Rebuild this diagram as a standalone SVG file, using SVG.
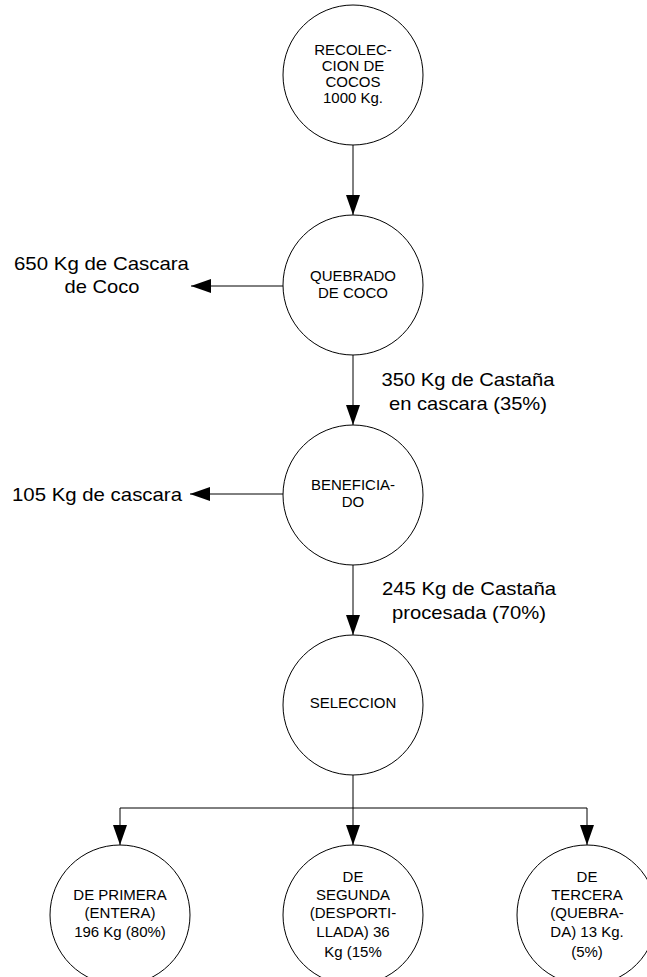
<svg xmlns="http://www.w3.org/2000/svg" width="647" height="977" viewBox="0 0 647 977">
<style>
.node{fill:#fff;stroke:#000;stroke-width:1}
.nt{font-family:"Liberation Sans",Arial,sans-serif;font-size:15px;text-anchor:middle;fill:#000}
.lbl{font-family:"Liberation Sans",Arial,sans-serif;font-size:19px;text-anchor:middle;fill:#000}
.edge{fill:none;stroke:#000;stroke-width:1}
</style>
<defs>
<marker id="arr" markerWidth="20" markerHeight="14" refX="20" refY="7" orient="auto" markerUnits="userSpaceOnUse">
<path d="M0,0 L20,7 L0,14 Z" fill="#000"/>
</marker>
</defs>
<rect width="647" height="977" fill="#fff"/>
<g id="connectors">
<line class="edge" x1="353" y1="145" x2="353" y2="215" marker-end="url(#arr)"/>
<line class="edge" x1="283" y1="286" x2="191" y2="286" marker-end="url(#arr)"/>
<line class="edge" x1="353" y1="355" x2="353" y2="425" marker-end="url(#arr)"/>
<line class="edge" x1="283" y1="494" x2="190" y2="494" marker-end="url(#arr)"/>
<line class="edge" x1="353" y1="565" x2="353" y2="635" marker-end="url(#arr)"/>
<line class="edge" x1="353" y1="775" x2="353" y2="845" marker-end="url(#arr)"/>
<polyline class="edge" points="120,808 587,808"/>
<line class="edge" x1="120" y1="808" x2="120" y2="845" marker-end="url(#arr)"/>
<line class="edge" x1="587" y1="808" x2="587" y2="845" marker-end="url(#arr)"/>
</g>
<g id="lbl-650">
<text class="lbl" x="101.5" y="270" textLength="175" lengthAdjust="spacingAndGlyphs">650 Kg de Cascara</text>
<text class="lbl" x="102" y="293" textLength="75" lengthAdjust="spacingAndGlyphs">de Coco</text>
</g>
<g id="lbl-350">
<text class="lbl" x="468" y="386" textLength="173" lengthAdjust="spacingAndGlyphs">350 Kg de Castaña</text>
<text class="lbl" x="468" y="410" textLength="158" lengthAdjust="spacingAndGlyphs">en cascara (35%)</text>
</g>
<g id="lbl-105">
<text class="lbl" x="97" y="501" textLength="170" lengthAdjust="spacingAndGlyphs">105 Kg de cascara</text>
</g>
<g id="lbl-245">
<text class="lbl" x="469" y="595" textLength="174" lengthAdjust="spacingAndGlyphs">245 Kg de Castaña</text>
<text class="lbl" x="469" y="619" textLength="154" lengthAdjust="spacingAndGlyphs">procesada (70%)</text>
</g>
<g id="n-recoleccion">
<circle class="node" cx="353" cy="75" r="70"/>
<text class="nt" x="353" y="55">RECOLEC-</text>
<text class="nt" x="353" y="71">CION DE</text>
<text class="nt" x="353" y="87">COCOS</text>
<text class="nt" x="353" y="103">1000 Kg.</text>
</g>
<g id="n-quebrado">
<circle class="node" cx="353" cy="285" r="70"/>
<text class="nt" x="353" y="281">QUEBRADO</text>
<text class="nt" x="353" y="298">DE COCO</text>
</g>
<g id="n-beneficiado">
<circle class="node" cx="353" cy="495" r="70"/>
<text class="nt" x="353" y="490">BENEFICIA-</text>
<text class="nt" x="353" y="507">DO</text>
</g>
<g id="n-seleccion">
<circle class="node" cx="353" cy="705" r="70"/>
<text class="nt" x="353" y="708">SELECCION</text>
</g>
<g id="n-primera">
<circle class="node" cx="120" cy="915" r="70"/>
<text class="nt" x="120" y="900">DE PRIMERA</text>
<text class="nt" x="120" y="918">(ENTERA)</text>
<text class="nt" x="120" y="937">196 Kg (80%)</text>
</g>
<g id="n-segunda">
<circle class="node" cx="353" cy="915" r="70"/>
<text class="nt" x="353" y="882">DE</text>
<text class="nt" x="353" y="900">SEGUNDA</text>
<text class="nt" x="353" y="918">(DESPORTI-</text>
<text class="nt" x="353" y="937">LLADA) 36</text>
<text class="nt" x="353" y="957">Kg (15%</text>
</g>
<g id="n-tercera">
<circle class="node" cx="587" cy="915" r="70"/>
<text class="nt" x="587" y="882">DE</text>
<text class="nt" x="587" y="900">TERCERA</text>
<text class="nt" x="587" y="918">(QUEBRA-</text>
<text class="nt" x="587" y="937">DA) 13 Kg.</text>
<text class="nt" x="587" y="957">(5%)</text>
</g>
</svg>
